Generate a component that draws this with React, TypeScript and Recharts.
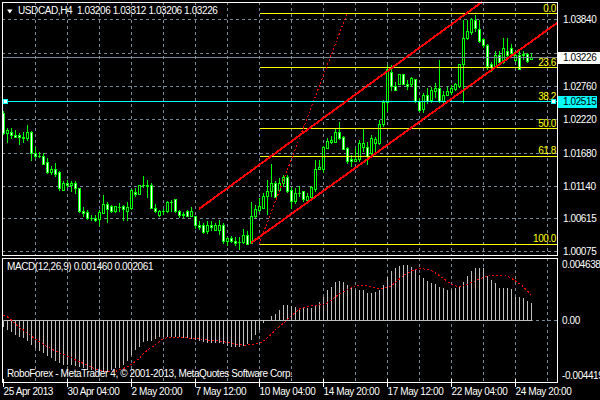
import {
  Bar,
  CartesianGrid,
  ComposedChart,
  Line,
  ReferenceLine,
  XAxis,
  YAxis,
} from "recharts";

// USDCAD H4, oldest bar first (bar index = position)
const opens = [
  1.0233, 1.0199, 1.0201, 1.0197, 1.0196, 1.0194, 1.0192, 1.0202, 1.0168, 1.0162,
  1.0162, 1.0152, 1.0136, 1.0142, 1.0137, 1.0108, 1.0118, 1.0115, 1.0119, 1.0111,
  1.0073, 1.0071, 1.0062, 1.0062, 1.006, 1.007, 1.0085, 1.0081, 1.0074, 1.0079,
  1.0081, 1.0074, 1.0078, 1.0104, 1.0101, 1.0115, 1.0116, 1.0116, 1.0078, 1.0066,
  1.0074, 1.0073, 1.0088, 1.0092, 1.0074, 1.0068, 1.0073, 1.0065, 1.0065, 1.0051,
  1.005, 1.004, 1.005, 1.0042, 1.0043, 1.0051, 1.0024, 1.0029, 1.0025, 1.0022,
  1.0023, 1.0035, 1.0022, 1.0065, 1.0075, 1.0078, 1.0097, 1.0105, 1.0118, 1.0108,
  1.0118, 1.0129, 1.0107, 1.0089, 1.0103, 1.0105, 1.0091, 1.0096, 1.0109, 1.0142,
  1.0142, 1.0175, 1.0185, 1.0185, 1.0201, 1.0194, 1.0175, 1.0158, 1.0155, 1.0157,
  1.0177, 1.0177, 1.0168, 1.0183, 1.0184, 1.0215, 1.025, 1.0298, 1.0276, 1.028,
  1.0295, 1.028, 1.0279, 1.0288, 1.0251, 1.0239, 1.0261, 1.0254, 1.0268, 1.0273,
  1.0251, 1.0261, 1.0266, 1.0272, 1.0276, 1.0311, 1.0354, 1.0364, 1.0383, 1.0368,
  1.0352, 1.0343, 1.0311, 1.0308, 1.0327, 1.0315, 1.0333, 1.0338, 1.0319, 1.0327,
  1.0326, 1.0328, 1.03206,
];
const highs = [
  1.0236, 1.0209, 1.0209, 1.0206, 1.0201, 1.0202, 1.0214, 1.0204, 1.0178, 1.017,
  1.0168, 1.016, 1.0147, 1.0152, 1.0139, 1.0122, 1.0124, 1.0123, 1.0123, 1.0112,
  1.008, 1.0076, 1.0067, 1.0067, 1.0076, 1.01, 1.0089, 1.0084, 1.0082, 1.0087,
  1.0084, 1.0088, 1.0109, 1.0111, 1.0117, 1.0131, 1.0124, 1.012, 1.0085, 1.0076,
  1.0078, 1.009, 1.0092, 1.0094, 1.0076, 1.0073, 1.0076, 1.0081, 1.0066, 1.0058,
  1.0054, 1.0057, 1.0057, 1.0054, 1.0059, 1.0054, 1.0032, 1.0033, 1.0032, 1.0031,
  1.0044, 1.0041, 1.0089, 1.0084, 1.0095, 1.0103, 1.0124, 1.0151, 1.0122, 1.0127,
  1.0132, 1.0132, 1.0113, 1.0111, 1.0115, 1.0107, 1.0103, 1.0115, 1.0157, 1.0157,
  1.0179, 1.0192, 1.0196, 1.0208, 1.0219, 1.0196, 1.0178, 1.0165, 1.0177, 1.019,
  1.0207, 1.0186, 1.0197, 1.0194, 1.0222, 1.0254, 1.0311, 1.0311, 1.0284, 1.0297,
  1.0297, 1.0287, 1.0292, 1.0289, 1.0257, 1.0265, 1.0273, 1.0276, 1.0281, 1.0319,
  1.0268, 1.0276, 1.0279, 1.0281, 1.0312, 1.0384, 1.0384, 1.0387, 1.0392, 1.0384,
  1.0355, 1.0345, 1.0316, 1.0333, 1.0333, 1.0354, 1.0354, 1.0345, 1.0333, 1.0333,
  1.0333, 1.033, 1.03312,
];
const lows = [
  1.0197, 1.0184, 1.0191, 1.0192, 1.0181, 1.0184, 1.0188, 1.0155, 1.0158, 1.016,
  1.0149, 1.0134, 1.0132, 1.0129, 1.0107, 1.0106, 1.0111, 1.0105, 1.0102, 1.007,
  1.0065, 1.006, 1.0058, 1.0056, 1.0049, 1.0069, 1.0055, 1.007, 1.0071, 1.0073,
  1.0058, 1.0058, 1.0076, 1.0097, 1.01, 1.0111, 1.0095, 1.0077, 1.0071, 1.0065,
  1.0067, 1.0071, 1.0073, 1.0071, 1.0063, 1.0063, 1.0064, 1.0064, 1.0045, 1.0043,
  1.0037, 1.0037, 1.0041, 1.0041, 1.0035, 1.002, 1.0017, 1.0022, 1.0017, 1.0011,
  1.002, 1.0019, 1.002, 1.0062, 1.0073, 1.0077, 1.0067, 1.0097, 1.0095, 1.0107,
  1.0113, 1.0103, 1.0078, 1.0085, 1.0097, 1.0089, 1.0089, 1.0095, 1.0105, 1.0141,
  1.0135, 1.0174, 1.0183, 1.0184, 1.0189, 1.0173, 1.0151, 1.0146, 1.0154, 1.0154,
  1.017, 1.0149, 1.0165, 1.0168, 1.0181, 1.0211, 1.0235, 1.0268, 1.0268, 1.0279,
  1.0279, 1.027, 1.0276, 1.0249, 1.0235, 1.0233, 1.0248, 1.025, 1.0257, 1.025,
  1.0249, 1.026, 1.0262, 1.0268, 1.0273, 1.0249, 1.0352, 1.036, 1.0365, 1.0346,
  1.0339, 1.0303, 1.03, 1.0306, 1.0311, 1.0312, 1.0319, 1.0322, 1.0316, 1.0303,
  1.0319, 1.0315, 1.03206,
];
const closes = [
  1.0199, 1.0204, 1.0197, 1.0194, 1.0193, 1.0192, 1.0202, 1.0168, 1.0162, 1.0161,
  1.015, 1.0136, 1.0142, 1.0134, 1.011, 1.0118, 1.0115, 1.0119, 1.011, 1.0073,
  1.007, 1.0062, 1.0061, 1.0058, 1.0071, 1.0085, 1.0077, 1.0074, 1.0081, 1.0078,
  1.0077, 1.0079, 1.0107, 1.0101, 1.0115, 1.0116, 1.0113, 1.0078, 1.0073, 1.0074,
  1.0073, 1.0088, 1.0087, 1.0073, 1.0066, 1.0066, 1.0065, 1.0073, 1.005, 1.0048,
  1.0039, 1.005, 1.0047, 1.005, 1.0051, 1.0024, 1.0029, 1.0024, 1.0022, 1.0023,
  1.0035, 1.002, 1.0065, 1.0076, 1.0081, 1.0098, 1.0105, 1.0118, 1.0096, 1.0119,
  1.0129, 1.0105, 1.0089, 1.0103, 1.0102, 1.0092, 1.0098, 1.0112, 1.0142, 1.0145,
  1.0177, 1.0186, 1.0188, 1.0201, 1.0192, 1.0174, 1.0154, 1.0154, 1.0158, 1.0184,
  1.0184, 1.0163, 1.0192, 1.019, 1.0215, 1.025, 1.0303, 1.0276, 1.0269, 1.0295,
  1.028, 1.0276, 1.0289, 1.0251, 1.0237, 1.0262, 1.0251, 1.0269, 1.0273, 1.0251,
  1.0262, 1.0268, 1.0273, 1.0279, 1.0311, 1.0354, 1.0365, 1.0384, 1.0371, 1.0349,
  1.0342, 1.0308, 1.0307, 1.0327, 1.0315, 1.0338, 1.0326, 1.033, 1.0327, 1.0304,
  1.0328, 1.0317, 1.03226,
];

// MACD(12,26,9): main histogram and signal line
const macdMain = [
  -0.00046, -0.00074, -0.00093, -0.00115, -0.00128, -0.00142, -0.00164, -0.00196, -0.00224, -0.00245,
  -0.00265, -0.00284, -0.00305, -0.00327, -0.00346, -0.0036, -0.0036, -0.0036, -0.00365, -0.00374,
  -0.00387, -0.00401, -0.00401, -0.00409, -0.00415, -0.0042, -0.00415, -0.00401, -0.00387, -0.00382,
  -0.0036, -0.00327, -0.00278, -0.00237, -0.0021, -0.00175, -0.00164, -0.00164, -0.00147, -0.00128,
  -0.00128, -0.00127, -0.00128, -0.00129, -0.0013, -0.00136, -0.00142, -0.00147, -0.00155, -0.00164,
  -0.00175, -0.00177, -0.00183, -0.00183, -0.00184, -0.00191, -0.00202, -0.0021, -0.0021, -0.00209,
  -0.00202, -0.00191, -0.00155, -0.00115, -0.00074, -0.00019, 0.00008, 0.00044, 0.00055, 0.0009,
  0.00131, 0.00131, 0.00125, 0.00117, 0.00109, 0.00117, 0.00104, 0.00109, 0.00131, 0.00158,
  0.00199, 0.00254, 0.00281, 0.00316, 0.00327, 0.00322, 0.00295, 0.00267, 0.00254, 0.00254,
  0.00253, 0.00226, 0.00226, 0.00235, 0.00254, 0.00295, 0.00363, 0.00409, 0.00436, 0.00453,
  0.00458, 0.00458, 0.00445, 0.00417, 0.00376, 0.00349, 0.00327, 0.00308, 0.003, 0.00281,
  0.00267, 0.00254, 0.00254, 0.00267, 0.00281, 0.00322, 0.00371, 0.00409, 0.00431, 0.00431,
  0.0043, 0.00371, 0.00335, 0.00308, 0.00273, 0.00267, 0.00267, 0.00262, 0.00199, 0.00199,
  0.00185, 0.00164, 0.00146,
];
const macdSignal = [
  0.00049, 0.00033, 0.00008, -0.00027, -0.00055, -0.00074, -0.00101, -0.00123, -0.0015, -0.00169,
  -0.00191, -0.0021, -0.00229, -0.00246, -0.00259, -0.00273, -0.00287, -0.003, -0.00319, -0.00333,
  -0.00347, -0.00363, -0.00377, -0.00393, -0.00404, -0.0041, -0.00412, -0.00415, -0.00412, -0.00401,
  -0.00388, -0.00374, -0.00355, -0.00328, -0.00306, -0.00265, -0.00238, -0.00218, -0.00191, -0.00169,
  -0.00142, -0.00137, -0.00137, -0.00137, -0.00137, -0.00137, -0.00139, -0.00142, -0.00142, -0.00145,
  -0.0015, -0.00156, -0.00158, -0.00161, -0.00164, -0.00169, -0.00177, -0.00183, -0.00188, -0.00194,
  -0.00197, -0.00197, -0.00194, -0.00188, -0.0018, -0.00164, -0.00137, -0.00109, -0.00071, -0.00044,
  -0.00019, 0.00014, 0.00044, 0.00071, 0.00098, 0.00112, 0.00117, 0.00123, 0.00126, 0.00131,
  0.00137, 0.0015, 0.00172, 0.00199, 0.00221, 0.0024, 0.00257, 0.00273, 0.00287, 0.00292,
  0.00295, 0.00289, 0.00278, 0.0027, 0.00265, 0.00268, 0.00276, 0.00289, 0.00317, 0.00344,
  0.00371, 0.0039, 0.0041, 0.0042, 0.00426, 0.00426, 0.0042, 0.0041, 0.00393, 0.00371,
  0.00349, 0.00322, 0.003, 0.00287, 0.00281, 0.00287, 0.003, 0.00317, 0.00328, 0.00344,
  0.00355, 0.00366, 0.00371, 0.00371, 0.00371, 0.00371, 0.00366, 0.00349, 0.00328, 0.00306,
  0.00278, 0.00246, 0.00206,
];

const timeLabels = [
  "25 Apr 2013",
  "30 Apr 04:00",
  "2 May 20:00",
  "7 May 12:00",
  "10 May 04:00",
  "14 May 20:00",
  "17 May 12:00",
  "22 May 04:00",
  "24 May 20:00",
];
const priceTicks = [1.00075, 1.00615, 1.0114, 1.0168, 1.0222, 1.0276, 1.033, 1.0384];
const macdTicks = [-0.004419, 0, 0.004638];

const bidPrice = 1.03226;
const hlinePrice = 1.02515;
const fiboHigh = 1.03945;
const fiboLow = 1.002;
const fiboStartBar = 64;
const fiboLevels = [0, 23.6, 38.2, 50, 61.8, 100];
// drawn objects: [bar, price] anchors
const fiboTrend = [[63.875, fiboLow], [85.875, fiboHigh]];
const channelUpper = [[48.875, 1.00773], [119.625, 1.041321]];
const channelLower = [[61.875, 1.00221], [138.375, 1.03791]];

const X_DOMAIN: [number, number] = [-0.375, 138.375];
const PRICE_DOMAIN: [number, number] = [1.000259, 1.041321];
const MACD_DOMAIN: [number, number] = [-0.00499, 0.005153];

const FONT = "'Liberation Sans', Arial, sans-serif";
const GREEN = "#00ff00";
const GRID = "#778899";
const RED = "#ff0000";
const YELLOW = "#ffff00";
const CYAN = "#00ffff";
const SILVER = "#c0c0c0";

const gridTicks = Array.from({ length: 17 }, (_, i) => (i + 1) * 8);
const timeTicks = timeLabels.map((_, i) => i * 16);

const candles = opens.map((open, k) => ({
  k,
  open,
  high: highs[k],
  low: lows[k],
  close: closes[k],
}));
const macdData = macdMain.map((macd, k) => ({ k, macd, signal: macdSignal[k] }));

const fiboPrice = (lvl: number) => fiboHigh - (lvl / 100) * (fiboHigh - fiboLow);
const seg = (pts: number[][]) => pts.map(([x, y]) => ({ x, y }));

const textStyle = { letterSpacing: "-0.4px" };

const Candle = (props: any) => {
  const { x, y, width, height, payload } = props;
  if (!payload || !height) return <g />;
  const { open, high, low, close } = payload;
  const top = Math.min(y, y + height);
  const h = Math.abs(height);
  const perUnit = h / (high - low);
  const cx = x + width / 2;
  const yOf = (v: number) => top + (high - v) * perUnit;
  const bodyTop = yOf(Math.max(open, close));
  const bodyBot = yOf(Math.min(open, close));
  const bull = close >= open;
  return (
    <g>
      <line x1={cx} x2={cx} y1={top} y2={top + h} stroke={GREEN} />
      {bodyBot - bodyTop < 1 ? (
        <line x1={cx - 1.5} x2={cx + 1.5} y1={bodyTop} y2={bodyTop} stroke={GREEN} />
      ) : (
        <rect
          x={cx - 1}
          y={bodyTop}
          width={2}
          height={bodyBot - bodyTop}
          fill={bull ? "#000" : "#fff"}
          stroke={GREEN}
        />
      )}
    </g>
  );
};

const Hist = (props: any) => {
  const { x, y, width, height } = props;
  const cx = x + width / 2;
  return (
    <rect
      x={cx - 0.5}
      y={Math.min(y, y + height)}
      width={1}
      height={Math.abs(height)}
      fill={SILVER}
    />
  );
};

const PriceTick = (props: any) => {
  const { x, y, payload } = props;
  if (payload.value === 1.033) return <g />;
  return (
    <text x={x + 6} y={y + 3.5} fill="#fff" fontSize={10} fontFamily={FONT} style={textStyle}>
      {payload.value.toFixed(5)}
    </text>
  );
};

const MacdTick = (props: any) => {
  const { x, y, payload } = props;
  const v = payload.value;
  return (
    <text x={x + 5} y={y + 3.5} fill="#fff" fontSize={10} fontFamily={FONT} style={textStyle}>
      {v === 0 ? "0.00" : v.toFixed(6)}
    </text>
  );
};

const TimeTick = (props: any) => {
  const { x, y, payload } = props;
  const label = timeLabels[Math.round(payload.value / 16)];
  return (
    <g>
      <line x1={x} x2={x} y1={y - 3} y2={y + 5} stroke="#fff" />
      <text x={x} y={y + 12.5} fill="#fff" fontSize={10} fontFamily={FONT} style={textStyle}>
        {label}
      </text>
    </g>
  );
};

const fiboLabel = (text: string) => (props: any) => {
  const vb = props.viewBox;
  return (
    <text
      x={vb.x + vb.width - 1}
      y={vb.y - 2}
      textAnchor="end"
      fill={YELLOW}
      fontSize={10}
      fontFamily={FONT}
      style={textStyle}
    >
      {text}
    </text>
  );
};

const priceBox = (value: number, bg: string, boxW: number, handles: boolean) => (props: any) => {
  const vb = props.viewBox;
  const right = vb.x + vb.width;
  return (
    <g>
      {handles && (
        <>
          <rect x={vb.x + 1.5} y={vb.y - 2} width={4} height={4} fill="#fff" stroke={bg} />
          <rect x={right - 5.5} y={vb.y - 2} width={4} height={4} fill="#fff" stroke={bg} />
        </>
      )}
      <rect x={right + 1} y={vb.y - 6} width={boxW} height={12} fill={bg} />
      <text x={right + 6} y={vb.y + 3.5} fill="#000" fontSize={10} fontFamily={FONT} style={textStyle}>
        {value.toFixed(5)}
      </text>
    </g>
  );
};

const overlayText = {
  position: "absolute" as const,
  color: "#fff",
  fontSize: 10,
  lineHeight: "12px",
  letterSpacing: "-0.4px",
  whiteSpace: "pre" as const,
  fontFamily: FONT,
};

export default function App() {
  return (
    <div
      style={{
        position: "fixed",
        left: 0,
        top: 0,
        width: 600,
        height: 400,
        background: "#000",
        overflow: "hidden",
      }}
    >
      <style>{`.mt4 svg line, .mt4 svg rect, .mt4 svg path { shape-rendering: crispEdges; }`}</style>
      <div className="mt4" style={{ position: "absolute", left: 0, top: 0 }}>
        <ComposedChart
          width={600}
          height={257}
          data={candles}
          margin={{ top: 2, right: 0, bottom: 2, left: 2 }}
        >
          <CartesianGrid stroke={GRID} strokeDasharray="3 3" />
          <XAxis
            type="number"
            dataKey="k"
            domain={X_DOMAIN}
            ticks={gridTicks}
            allowDataOverflow
            height={0}
            hide
          />
          <YAxis
            orientation="right"
            width={43}
            domain={PRICE_DOMAIN}
            ticks={priceTicks}
            allowDataOverflow
            interval={0}
            axisLine={false}
            tickLine={false}
            tickSize={0}
            tickMargin={0}
            tick={PriceTick}
          />
          {fiboLevels.map((lvl) => (
            <ReferenceLine
              key={lvl}
              segment={[
                { x: fiboStartBar, y: fiboPrice(lvl) },
                { x: X_DOMAIN[1], y: fiboPrice(lvl) },
              ]}
              stroke={YELLOW}
              label={fiboLabel(lvl.toFixed(1))}
            />
          ))}
          <ReferenceLine segment={seg(fiboTrend)} stroke={RED} strokeDasharray="2 2" />
          <ReferenceLine y={bidPrice} stroke={GRID} label={priceBox(bidPrice, "#fff", 43, false)} />
          <ReferenceLine y={hlinePrice} stroke={CYAN} label={priceBox(hlinePrice, CYAN, 39, true)} />
          <Bar
            dataKey={(d: any) => [d.low, d.high]}
            barSize={4}
            shape={(p: any) => <Candle {...p} />}
            isAnimationActive={false}
          />
          <ReferenceLine segment={seg(channelUpper)} stroke={RED} strokeWidth={2} />
          <ReferenceLine segment={seg(channelLower)} stroke={RED} strokeWidth={2} />
        </ComposedChart>
      </div>

      <div className="mt4" style={{ position: "absolute", left: 0, top: 258 }}>
        <ComposedChart
          width={600}
          height={142}
          data={macdData}
          margin={{ top: 0, right: 0, bottom: 0, left: 2 }}
        >
          <XAxis
            xAxisId="t"
            type="number"
            dataKey="k"
            domain={X_DOMAIN}
            ticks={timeTicks}
            allowDataOverflow
            interval={0}
            height={18}
            axisLine={false}
            tickLine={false}
            tickSize={0}
            tickMargin={0}
            tick={TimeTick}
          />
          <XAxis
            xAxisId="g"
            type="number"
            dataKey="k"
            domain={X_DOMAIN}
            ticks={gridTicks}
            allowDataOverflow
            height={0}
            hide
          />
          <CartesianGrid xAxisId="g" stroke={GRID} strokeDasharray="3 3" horizontal={false} />
          <YAxis
            orientation="right"
            width={43}
            domain={MACD_DOMAIN}
            ticks={macdTicks}
            allowDataOverflow
            interval={0}
            axisLine={false}
            tickLine={false}
            tickSize={0}
            tickMargin={0}
            tick={MacdTick}
          />
          <ReferenceLine xAxisId="t" y={0} stroke={GRID} strokeDasharray="3 3" />
          <ReferenceLine
            xAxisId="t"
            segment={[
              { x: 0, y: 0 },
              { x: macdMain.length - 1, y: 0 },
            ]}
            stroke={SILVER}
          />
          <Bar
            xAxisId="t"
            dataKey="macd"
            barSize={2}
            shape={(p: any) => <Hist {...p} />}
            isAnimationActive={false}
          />
          <Line
            xAxisId="t"
            type="linear"
            dataKey="signal"
            stroke={RED}
            strokeDasharray="2 2"
            dot={false}
            isAnimationActive={false}
          />
        </ComposedChart>
      </div>

      {/* window frames */}
      <div
        style={{
          position: "absolute",
          left: 2,
          top: 2,
          width: 556,
          height: 254,
          border: "1px solid #fff",
          boxSizing: "border-box",
          pointerEvents: "none",
        }}
      />
      <div
        style={{
          position: "absolute",
          left: 2,
          top: 258,
          width: 556,
          height: 125,
          border: "1px solid #fff",
          boxSizing: "border-box",
          pointerEvents: "none",
        }}
      />

      <svg style={{ position: "absolute", left: 0, top: 0 }} width={20} height={20}>
        <polygon points="7,9.5 12.5,9.5 9.75,13.5" fill="#fff" />
      </svg>
      <div style={{ ...overlayText, left: 18, top: 5 }}>
        {"USDCAD,H4  1.03206 1.03312 1.03206 1.03226"}
      </div>
      <div style={{ ...overlayText, left: 7, top: 261 }}>MACD(12,26,9) 0.001460 0.002061</div>
      <div style={{ ...overlayText, left: 7, top: 368 }}>
        RoboForex - MetaTrader 4, © 2001-2013, MetaQuotes Software Corp.
      </div>
    </div>
  );
}
